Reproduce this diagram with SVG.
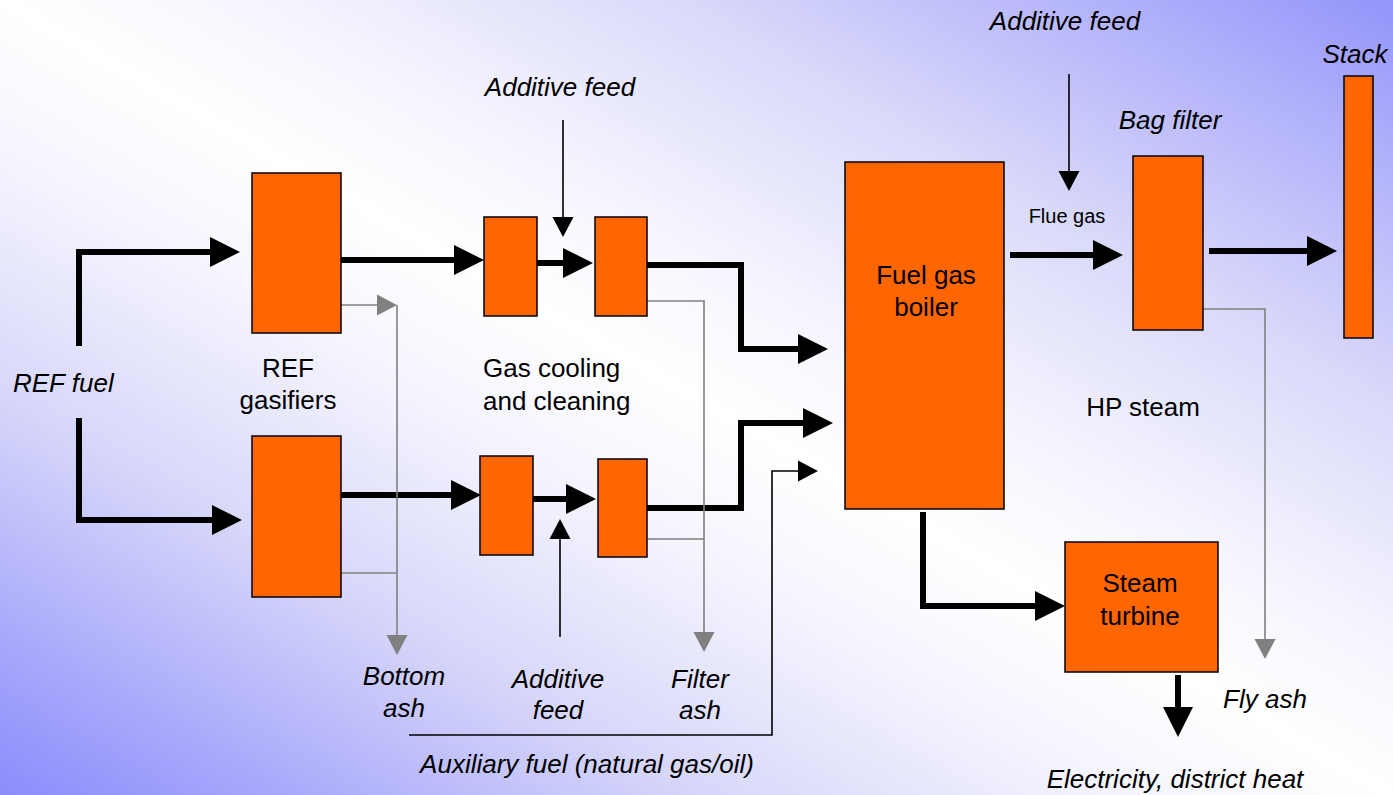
<svg xmlns="http://www.w3.org/2000/svg" width="1393" height="795" viewBox="0 0 1393 795">
<defs>
<linearGradient id="bg" x1="0" y1="1" x2="1" y2="0">
<stop offset="0" stop-color="#8c8cfc"/>
<stop offset="0.1" stop-color="#a8a8fb"/>
<stop offset="0.25" stop-color="#d6d6fa"/>
<stop offset="0.4" stop-color="#f4f4fe"/>
<stop offset="0.5" stop-color="#ffffff"/>
<stop offset="0.6" stop-color="#f4f4fe"/>
<stop offset="0.75" stop-color="#d8d8fa"/>
<stop offset="0.9" stop-color="#b0b0fb"/>
<stop offset="1" stop-color="#9494fa"/>
</linearGradient>
<marker id="big" markerUnits="userSpaceOnUse" markerWidth="31" markerHeight="32" refX="0" refY="16" orient="auto" overflow="visible">
<path d="M0,1 L30,16 L0,31 Z" fill="#000"/>
</marker>
<marker id="thin" markerUnits="userSpaceOnUse" markerWidth="21" markerHeight="22" refX="0" refY="11" orient="auto" overflow="visible">
<path d="M0,0.5 L20,11 L0,21.5 Z" fill="#000"/>
</marker>
<marker id="gray" markerUnits="userSpaceOnUse" markerWidth="21" markerHeight="22" refX="0" refY="11" orient="auto" overflow="visible">
<path d="M0,0.5 L20,11 L0,21.5 Z" fill="#808080"/>
</marker>
</defs>
<style>
.unit{fill:#ff6600;stroke:#000;stroke-width:1.5}
.thick{fill:none;stroke:#000;stroke-width:6;stroke-linejoin:miter;marker-end:url(#big)}
.thinl{fill:none;stroke:#000;stroke-width:1.6;marker-end:url(#thin)}
.grayl{fill:none;stroke:#808080;stroke-width:1.6}
.graya{marker-end:url(#gray)}
text{font-family:"Liberation Sans",Arial,sans-serif;font-size:26px;fill:#000}
.it{font-style:italic}
.mid{text-anchor:middle}
</style>
<rect x="0" y="0" width="1393" height="795" fill="url(#bg)"/>

<g id="connectors">
<path class="thick" d="M79,346 V252 H210"/>
<path class="thick" d="M79,418 V520 H212"/>
<path class="thick" d="M341,260 H454"/>
<path class="thick" d="M341,495 H451"/>
<path class="thick" d="M537,263 H563"/>
<path class="thick" d="M533,499 H566"/>
<path class="thick" d="M647,265 H741 V349 H798"/>
<path class="thick" d="M647,508 H741 V423 H803"/>
<path class="thick" d="M923,512 V606 H1035"/>
<path class="thick" d="M1178,675 V707"/>
<path class="thick" d="M1010,255 H1093"/>
<path class="thick" d="M1209,251 H1307"/>
<path class="thinl" d="M563,120 V217"/>
<path class="thinl" d="M560,637 V539"/>
<path class="thinl" d="M1069,74 V171"/>
<path class="thinl" d="M409,735 H772 V471 H798"/>
<path class="grayl graya" d="M341,305 H377"/>
<path class="grayl graya" d="M397,305 V635"/>
<path class="grayl" d="M341,573 H397"/>
<path class="grayl graya" d="M647,301 H704 V632"/>
<path class="grayl" d="M647,539 H704"/>
<path class="grayl graya" d="M1198,309 H1265 V639"/>
</g>

<g id="gasifier1"><rect class="unit" x="252" y="173" width="89" height="160"/></g>
<g id="gasifier2"><rect class="unit" x="252" y="436" width="89" height="161"/></g>
<g id="cooler1a"><rect class="unit" x="484" y="217" width="53" height="99"/></g>
<g id="cooler1b"><rect class="unit" x="595" y="217" width="52" height="99"/></g>
<g id="cooler2a"><rect class="unit" x="480" y="456" width="53" height="99"/></g>
<g id="cooler2b"><rect class="unit" x="598" y="459" width="49" height="98"/></g>
<g id="boiler"><rect class="unit" x="845" y="162" width="159" height="347"/>
<text class="mid" x="926" y="284">Fuel gas</text>
<text class="mid" x="926" y="316">boiler</text></g>
<g id="bagfilter"><rect class="unit" x="1133" y="156" width="70" height="174"/></g>
<g id="stack"><rect class="unit" x="1344" y="76" width="29" height="262"/></g>
<g id="turbine"><rect class="unit" x="1065" y="542" width="153" height="130"/>
<text class="mid" x="1140" y="592">Steam</text>
<text class="mid" x="1140" y="625">turbine</text></g>

<g id="labels">
<text class="it" x="13" y="392">REF fuel</text>
<text class="mid" x="288" y="377">REF</text>
<text class="mid" x="288" y="409">gasifiers</text>
<text x="483" y="377">Gas cooling</text>
<text x="483" y="410">and cleaning</text>
<text class="it mid" x="560" y="96">Additive feed</text>
<text class="it mid" x="1065" y="30">Additive feed</text>
<text class="it mid" x="1355" y="63">Stack</text>
<text class="it mid" x="1170" y="129">Bag filter</text>
<text class="mid" x="1067" y="223" style="font-size:20px">Flue gas</text>
<text class="mid" x="1143" y="416">HP steam</text>
<text class="it mid" x="1265" y="708">Fly ash</text>
<text class="it mid" x="1175" y="788">Electricity, district heat</text>
<text class="it mid" x="587" y="773">Auxiliary fuel (natural gas/oil)</text>
<text class="it mid" x="404" y="685">Bottom</text>
<text class="it mid" x="404" y="717">ash</text>
<text class="it mid" x="558" y="688">Additive</text>
<text class="it mid" x="558" y="719">feed</text>
<text class="it mid" x="700" y="688">Filter</text>
<text class="it mid" x="700" y="719">ash</text>
</g>
</svg>
